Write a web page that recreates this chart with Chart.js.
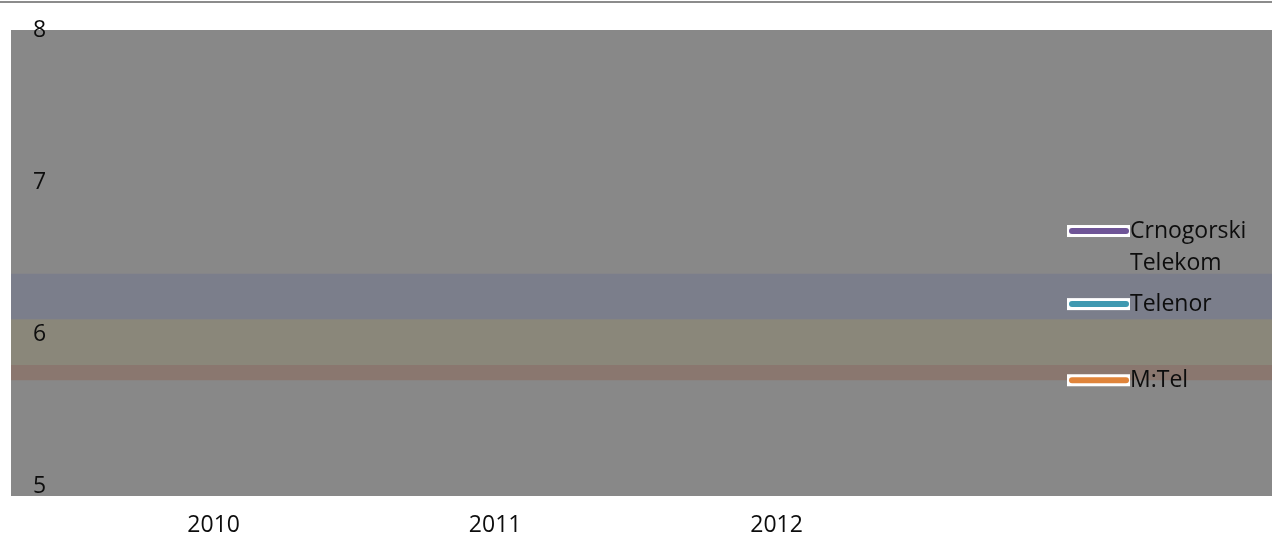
<!DOCTYPE html>
<html lang="en">
<head>
    <meta charset="UTF-8">
    <title>Operators</title>
    <style>
        body {
            margin: 0;
            background: #ffffff;
        }

        #chart-container {
            width: 1272px;
            height: 546px;
        }
    </style>
    <script src="https://cdn.jsdelivr.net/npm/chart.js"></script>
</head>
<body>

    <div id="chart-container">
        <canvas id="operatorChart" width="1272" height="546"></canvas>
    </div>

    <script>
        // data
        const years = [2010, 2011, 2012];
        const yTicks = [5, 6, 7, 8];
        const yMin = 4.94;
        const yMax = 8;
        const xMin = 2009.28;
        const xMax = 2013.76;

        // shaded horizontal bands (bottom / top values)
        const bandBottoms = [6.1, 5.8, 5.7];
        const bandTops = [6.4, 6.1, 5.8];
        const bandColors = ['#7b7e8b', '#8a877a', '#8a776f'];

        // series legend, placed at each series level
        const seriesNames = [['Crnogorski', 'Telekom'], ['Telenor'], ['M:Tel']];
        const seriesLevels = [6.68, 6.2, 5.7];
        const seriesColors = ['#6f5597', '#3f99b1', '#e0843a'];

        const FONT = "'Open Sans', sans-serif";

        const datasets = [];
        bandTops.forEach(function (top, i) {
            datasets.push({
                data: [{ x: xMin, y: bandBottoms[i] }, { x: xMax, y: bandBottoms[i] }],
                borderWidth: 0,
                pointRadius: 0,
                fill: false
            });
            datasets.push({
                data: [{ x: xMin, y: top }, { x: xMax, y: top }],
                borderWidth: 0,
                pointRadius: 0,
                backgroundColor: bandColors[i],
                fill: '-1'
            });
        });

        const plotBackground = {
            id: 'plotBackground',
            beforeDraw(chart) {
                const { ctx, chartArea } = chart;
                ctx.save();
                ctx.fillStyle = '#888888';
                ctx.fillRect(chartArea.left, chartArea.top, chartArea.right - chartArea.left, chartArea.bottom - chartArea.top);
                // thin rule under the (cut off) title
                ctx.fillStyle = '#8c8c8c';
                ctx.fillRect(0, 1, chart.width, 2);
                ctx.restore();
            }
        };

        const seriesLegend = {
            id: 'seriesLegend',
            afterDraw(chart) {
                const { ctx, chartArea } = chart;
                const yScale = chart.scales.y;
                const x0 = chartArea.right - 205;
                ctx.save();
                seriesNames.forEach(function (lines, i) {
                    const y = yScale.getPixelForValue(seriesLevels[i]);
                    ctx.fillStyle = '#ffffff';
                    ctx.fillRect(x0, y - 6, 63, 12);
                    ctx.strokeStyle = seriesColors[i];
                    ctx.lineWidth = 6;
                    ctx.lineCap = 'round';
                    ctx.beginPath();
                    ctx.moveTo(x0 + 5, y);
                    ctx.lineTo(x0 + 59, y);
                    ctx.stroke();
                    ctx.fillStyle = '#0d0d0d';
                    ctx.font = '23px ' + FONT;
                    ctx.textBaseline = 'middle';
                    ctx.textAlign = 'left';
                    lines.forEach(function (t, k) {
                        ctx.fillText(t, x0 + 63, y + k * 32);
                    });
                });
                ctx.restore();
            }
        };

        new Chart(document.getElementById('operatorChart'), {
            type: 'line',
            data: { datasets: datasets },
            options: {
                responsive: false,
                animation: false,
                layout: {
                    padding: { left: 11, top: 30, right: 0, bottom: 0 }
                },
                plugins: {
                    legend: { display: false },
                    tooltip: { enabled: false },
                    title: { display: false }
                },
                scales: {
                    x: {
                        type: 'linear',
                        min: xMin,
                        max: xMax,
                        grid: { display: false },
                        border: { display: false },
                        afterBuildTicks: function (axis) {
                            axis.ticks = years.map(v => ({ value: v }));
                        },
                        afterFit: function (axis) {
                            axis.height = 50;
                            axis.paddingLeft = 0;
                            axis.paddingRight = 0;
                        },
                        ticks: {
                            padding: 8,
                            color: '#0d0d0d',
                            font: { family: FONT, size: 23 },
                            maxRotation: 0,
                            autoSkip: false,
                            callback: (value) => String(value)
                        }
                    },
                    y: {
                        min: yMin,
                        max: yMax,
                        grid: { display: false },
                        border: { display: false },
                        afterBuildTicks: function (axis) {
                            axis.ticks = yTicks.map(v => ({ value: v }));
                        },
                        afterFit: function (axis) {
                            axis.width = 0;
                            axis.paddingTop = 0;
                            axis.paddingBottom = 0;
                        },
                        ticks: {
                            z: 1, // labels sit on top of the bands
                            mirror: true,
                            padding: 22,
                            autoSkip: false,
                            color: '#0d0d0d',
                            font: { family: FONT, size: 23 },
                            callback: (value) => String(value)
                        }
                    }
                }
            },
            plugins: [plotBackground, seriesLegend]
        });
    </script>

</body>
</html>
